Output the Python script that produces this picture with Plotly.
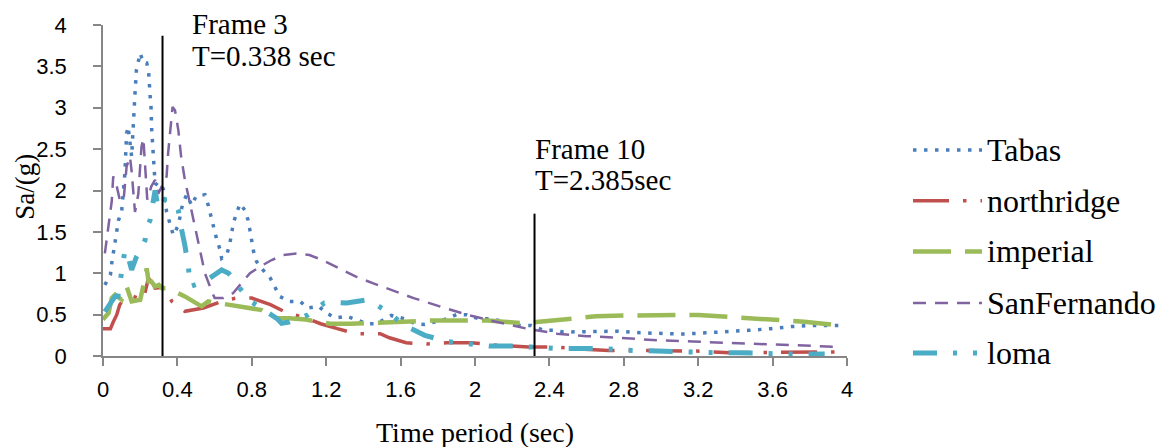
import plotly.graph_objects as go

# ---------------- data ----------------
tabas_x = [0.01, 0.04, 0.047, 0.055, 0.065, 0.074, 0.083, 0.10, 0.11, 0.117, 0.12, 0.123, 0.127, 0.135,
           0.14, 0.147, 0.154, 0.172, 0.18, 0.20, 0.217, 0.235, 0.245, 0.253, 0.258, 0.262, 0.27,
           0.28, 0.30, 0.315, 0.328, 0.342, 0.36, 0.378, 0.405, 0.428, 0.45, 0.477, 0.50, 0.548, 0.566,
           0.593, 0.61, 0.63, 0.638, 0.665, 0.68, 0.69, 0.70, 0.72, 0.737, 0.763, 0.78, 0.79, 0.80, 0.81,
           0.826, 0.86, 0.90, 0.925, 0.95, 1.0, 1.06, 1.10, 1.16, 1.20, 1.25, 1.31, 1.36, 1.42, 1.47,
           1.52, 1.55, 1.62, 1.68, 1.73, 1.79, 1.85, 1.90, 1.955, 2.02, 2.08, 2.13, 2.19, 2.24, 2.30,
           2.37, 2.42, 2.475, 2.54, 2.65, 2.77, 2.89, 3.00, 3.12, 3.24, 3.35, 3.47, 3.59, 3.70, 3.82, 3.96]
tabas_y = [0.86, 0.98, 1.12, 1.24, 1.38, 1.50, 1.64, 1.74, 1.95, 2.19, 2.33, 2.45, 2.69, 2.77,
           2.65, 2.51, 2.41, 3.17, 3.46, 3.66, 3.54, 3.54, 3.45, 3.15, 3.01, 2.73, 2.37,
           2.09, 2.05, 2.07, 1.99, 1.74, 1.60, 1.46, 1.58, 1.84, 1.95, 1.82, 1.93, 1.95, 1.82,
           1.56, 1.42, 1.28, 1.18, 1.22, 1.34, 1.46, 1.60, 1.74, 1.84, 1.76, 1.64, 1.52, 1.38, 1.26,
           1.14, 1.04, 0.94, 0.82, 0.72, 0.66, 0.66, 0.58, 0.60, 0.52, 0.46, 0.48, 0.44, 0.39, 0.39,
           0.46, 0.49, 0.45, 0.39, 0.38, 0.41, 0.45, 0.50, 0.50, 0.45, 0.45, 0.43, 0.41, 0.37, 0.37,
           0.31, 0.31, 0.29, 0.29, 0.29, 0.30, 0.28, 0.27, 0.265, 0.28, 0.29, 0.31, 0.33, 0.355, 0.37, 0.37]

north_x = [0.0, 0.04, 0.055, 0.074, 0.09, 0.11, 0.163, 0.217, 0.244, 0.27, 0.28, 0.306, 0.33, 0.37,
           0.44, 0.54, 0.593, 0.665, 0.72, 0.80, 0.90, 1.0, 1.08, 1.17, 1.26, 1.36, 1.45, 1.49, 1.54,
           1.63, 1.74, 1.85, 1.98, 2.12, 2.29, 2.42, 2.56, 2.72, 2.92, 3.05, 3.19, 3.37, 3.55, 3.70,
           3.79, 3.93, 3.98]
north_y = [0.33, 0.33, 0.41, 0.50, 0.62, 0.68, 0.72, 0.68, 0.94, 0.87, 0.82, 0.82, 0.83, 0.66,
           0.54, 0.58, 0.62, 0.68, 0.70, 0.70, 0.62, 0.51, 0.47, 0.39, 0.33, 0.27, 0.27, 0.27, 0.22,
           0.16, 0.145, 0.16, 0.16, 0.13, 0.11, 0.11, 0.085, 0.065, 0.065, 0.06, 0.06, 0.04, 0.04, 0.04,
           0.04, 0.05, 0.05]

imperial_x = [0.0, 0.03, 0.047, 0.065, 0.10, 0.127, 0.154, 0.2, 0.226, 0.235, 0.245, 0.26, 0.28, 0.30,
              0.317, 0.35, 0.44, 0.485, 0.53, 0.566, 0.67, 0.755, 0.853, 0.934, 1.0, 1.09, 1.17, 1.22,
              1.33, 1.42, 1.51, 1.67, 1.785, 1.97, 2.07, 2.26, 2.36, 2.53, 2.65, 2.83, 2.92, 3.10, 3.20,
              3.37, 3.49, 3.675, 3.77, 3.96]
imperial_y = [0.44, 0.52, 0.70, 0.74, 0.68, 0.84, 0.66, 0.68, 0.94, 1.06, 0.90, 0.90, 0.84, 0.86,
              0.82, 0.82, 0.72, 0.66, 0.60, 0.66, 0.62, 0.60, 0.555, 0.455, 0.455, 0.44, 0.41, 0.39,
              0.39, 0.40, 0.41, 0.43, 0.43, 0.43, 0.43, 0.395, 0.415, 0.455, 0.48, 0.49, 0.495, 0.495, 0.495,
              0.475, 0.455, 0.43, 0.415, 0.37]

sanf_x = [0.01, 0.03, 0.047, 0.055, 0.074, 0.09, 0.11, 0.127, 0.145, 0.154, 0.163, 0.172, 0.19, 0.20,
          0.207, 0.217, 0.226, 0.238, 0.26, 0.28, 0.297, 0.315, 0.342, 0.35, 0.36, 0.374, 0.387, 0.405,
          0.42, 0.44, 0.468, 0.495, 0.52, 0.548, 0.575, 0.60, 0.647, 0.70, 0.737, 0.79, 0.844, 0.907,
          0.97, 1.04, 1.11, 1.18, 1.27, 1.36, 1.45, 1.525, 1.67, 1.81, 1.955, 2.10, 2.28, 2.44, 2.60,
          2.78, 2.98, 3.17, 3.37, 3.57, 3.765, 3.96]
sanf_y = [1.24, 1.56, 1.87, 2.17, 2.05, 1.89, 1.87, 2.29, 2.41, 2.23, 1.97, 1.74, 1.96, 2.29,
          2.53, 2.63, 2.35, 1.89, 2.05, 2.13, 1.96, 2.05, 2.17, 2.45, 2.73, 3.01, 2.97, 2.73,
          2.41, 2.13, 1.84, 1.56, 1.28, 1.00, 0.84, 0.70, 0.70, 0.76, 0.86, 1.00, 1.08, 1.16,
          1.22, 1.24, 1.22, 1.16, 1.06, 0.96, 0.88, 0.82, 0.70, 0.60, 0.50, 0.42, 0.33, 0.27, 0.24,
          0.22, 0.19, 0.175, 0.16, 0.145, 0.13, 0.11]

loma_x = [0.01, 0.04, 0.065, 0.08, 0.10, 0.118, 0.135, 0.154, 0.18, 0.226, 0.235, 0.253, 0.28, 0.29,
          0.297, 0.333, 0.387, 0.405, 0.414, 0.44, 0.46, 0.468, 0.548, 0.638, 0.675, 0.70, 0.72, 0.794,
          0.90, 0.934, 0.96, 1.0, 1.10, 1.19, 1.24, 1.31, 1.425, 1.53, 1.62, 1.73, 1.85, 1.96, 2.08,
          2.21, 2.30, 2.45, 2.56, 2.68, 2.81, 2.92, 3.05, 3.16, 3.29, 3.41, 3.52, 3.65, 3.76, 3.88]
loma_y = [0.535, 0.64, 0.72, 0.72, 1.0, 1.28, 1.2, 1.04, 1.20, 1.40, 1.56, 1.64, 2.0, 1.89,
          1.78, 1.89, 1.84, 1.76, 1.62, 1.34, 1.06, 0.84, 0.90, 1.04, 1.0, 0.94, 0.86, 0.66,
          0.515, 0.455, 0.395, 0.41, 0.495, 0.64, 0.65, 0.64, 0.68, 0.535, 0.37, 0.25, 0.175, 0.15, 0.12,
          0.12, 0.105, 0.09, 0.09, 0.09, 0.07, 0.06, 0.06, 0.05, 0.04, 0.04, 0.03, 0.025, 0.025, 0.025]

series_names = ["Tabas", "northridge", "imperial", "SanFernando", "loma"]

frame_periods = [0.32, 2.32]
frame_tops = [3.87, 1.72]
frame_titles = ["Frame 3", "Frame 10"]
frame_periods_text = ["T=0.338 sec", "T=2.385sec"]

x_tick_vals = [0, 0.4, 0.8, 1.2, 1.6, 2, 2.4, 2.8, 3.2, 3.6, 4]
x_tick_text = ["0", "0.4", "0.8", "1.2", "1.6", "2", "2.4", "2.8", "3.2", "3.6", "4"]
y_tick_vals = [0, 0.5, 1, 1.5, 2, 2.5, 3, 3.5, 4]
y_tick_text = ["0", "0.5", "1", "1.5", "2", "2.5", "3", "3.5", "4"]

# ---------------- styles ----------------
styles = [
    dict(color="#4A7EBB", width=3.5, dash="3.5px,7.5px"),
    dict(color="#C0504D", width=3.5, dash="36px,14px,3.5px,14px"),
    dict(color="#9BBB59", width=4.5, dash="38px,14px"),
    dict(color="#8064A2", width=2.5, dash="13px,9px"),
    dict(color="#4BACC6", width=5, dash="24px,16px,4px,16px,4px,16px"),
]
xs = [tabas_x, north_x, imperial_x, sanf_x, loma_x]
ys = [tabas_y, north_y, imperial_y, sanf_y, loma_y]

SERIF = "Liberation Serif"
SANS = "Liberation Sans"
Y_MAX = 4.0

fig = go.Figure()
for name, x, y, st in zip(series_names, xs, ys, styles):
    fig.add_trace(go.Scatter(x=x, y=y, mode="lines", name=name, line=st,
                             showlegend=False, cliponaxis=False))

# vertical frame lines
for xp, top in zip(frame_periods, frame_tops):
    fig.add_trace(go.Scatter(x=[xp, xp], y=[0, top], mode="lines",
                             line=dict(color="black", width=2), showlegend=False,
                             cliponaxis=False, hoverinfo="skip"))

annotations = []
# frame labels (two single-line annotations each, for tight line spacing)
label_pos = [(0.468, 4.01, 3.625), (2.31, 2.50, 2.127)]
for (lx, y1, y2), t1, t2 in zip(label_pos, frame_titles, frame_periods_text):
    for yy, tt in ((y1, t1), (y2, t2)):
        annotations.append(dict(x=lx, y=yy / Y_MAX, xref="x", yref="paper", text=tt,
                                showarrow=False, xanchor="left", yanchor="middle", align="left",
                                font=dict(family=SERIF, size=29, color="black")))

# manual legend (paper coordinates)
shapes = []
leg_y = [0.622, 0.469, 0.316, 0.160, 0.009]
for name, st, ly in zip(series_names, styles, leg_y):
    shapes.append(dict(type="line", xref="paper", yref="paper", x0=1.0887, x1=1.1815,
                       y0=ly, y1=ly, line=dict(color=st["color"], width=st["width"], dash=st["dash"])))
    annotations.append(dict(x=1.186, y=ly, xref="paper", yref="paper", text=name,
                            showarrow=False, xanchor="left", yanchor="middle",
                            font=dict(family=SERIF, size=32, color="black")))

# axis titles as annotations
annotations.append(dict(x=0.5, y=-0.23, xref="paper", yref="paper", text="Time period (sec)",
                        showarrow=False, xanchor="center", yanchor="middle",
                        font=dict(family=SERIF, size=28, color="black")))
annotations.append(dict(x=-0.104, y=0.51, xref="paper", yref="paper", text="Sa/(g)", textangle=-90,
                        showarrow=False, xanchor="center", yanchor="middle",
                        font=dict(family=SERIF, size=27, color="black")))

# the page body adds an 8px margin, so the figure is shifted up/left by 8px
fig.update_layout(
    width=1158, height=439,
    margin=dict(l=95, r=319, t=17, b=91, pad=0),
    paper_bgcolor="white", plot_bgcolor="white",
    showlegend=False,
    annotations=annotations,
    shapes=shapes,
    xaxis=dict(range=[0, 4], tickvals=x_tick_vals, ticktext=x_tick_text, automargin=False,
               showgrid=False, zeroline=False, showline=True, linecolor="#868686", linewidth=1.5,
               ticks="outside", ticklen=8, tickcolor="#868686", tickwidth=1.5,
               ticklabelstandoff=5,
               tickfont=dict(family=SANS, size=22, color="black")),
    yaxis=dict(range=[0, Y_MAX], tickvals=y_tick_vals, ticktext=y_tick_text, automargin=False,
               showgrid=False, zeroline=False, showline=True, linecolor="#868686", linewidth=1.5,
               ticks="outside", ticklen=8, tickcolor="#868686", tickwidth=1.5,
               ticklabelstandoff=22,
               tickfont=dict(family=SANS, size=22, color="black")),
)

fig.write_html("out.html")
